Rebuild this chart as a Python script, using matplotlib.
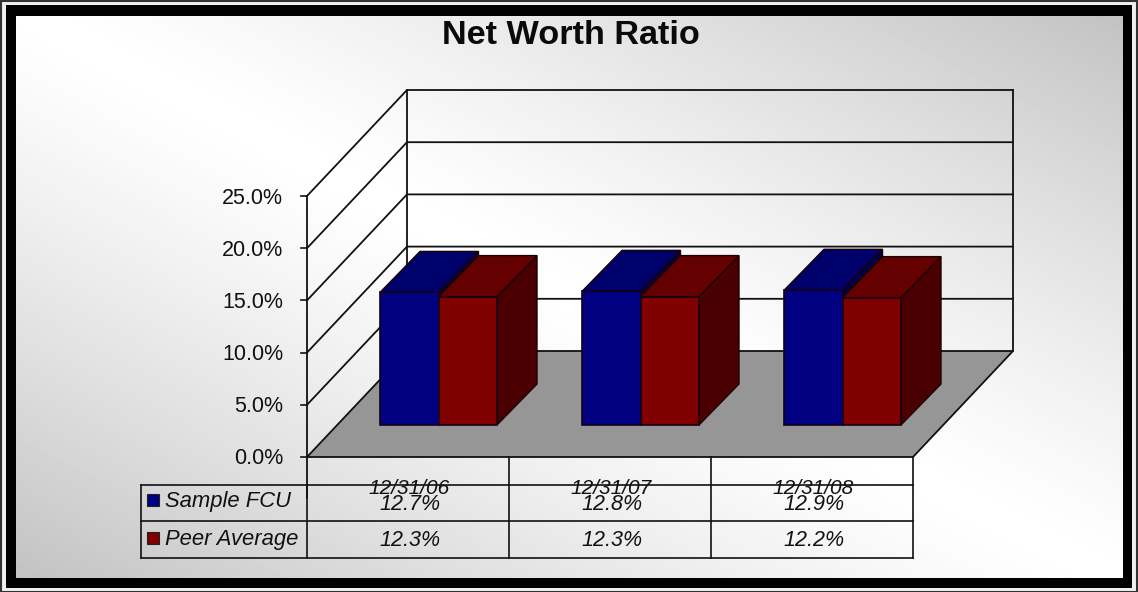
import numpy as np
import matplotlib
matplotlib.use("Agg")
import matplotlib.pyplot as plt
from matplotlib.patches import Polygon, Rectangle

plt.rcParams['font.family'] = ['Liberation Sans', 'DejaVu Sans']

title = "Net Worth Ratio"
categories = ["12/31/06", "12/31/07", "12/31/08"]
series_names = ["Sample FCU", "Peer Average"]
sample_fcu = [12.7, 12.8, 12.9]
peer_average = [12.3, 12.3, 12.2]
y_ticks = [0, 5, 10, 15, 20, 25]

W, H = 1138, 592
fig = plt.figure(figsize=(W / 100, H / 100), dpi=100)

# background: light along the top-left/bottom-right diagonal, grey at the other corners
bg = fig.add_axes([0, 0, 1, 1])
bg.set_axis_off()
yy, xx = np.mgrid[0:1:296j, 0:1:569j]
vals = 1.0 - 0.25 * np.abs(xx - yy) ** 1.25
bg.imshow(vals, cmap="gray", vmin=0, vmax=1, extent=[0, W, H, 0], aspect="auto", interpolation="bilinear")
bg.set_xlim(0, W)
bg.set_ylim(H, 0)
# frame
bg.add_patch(Rectangle((0, 0), W, 5, fc="#f0f0f0", ec="none"))
bg.add_patch(Rectangle((0, H - 4), W, 4, fc="#f0f0f0", ec="none"))
bg.add_patch(Rectangle((0, 0), 6, H, fc="#f0f0f0", ec="none"))
bg.add_patch(Rectangle((W - 6, 0), 6, H, fc="#f0f0f0", ec="none"))
bg.add_patch(Rectangle((0.5, 0.5), W - 1, H - 1, fill=False, ec="#333333", lw=1.5))
bg.add_patch(Rectangle((6, 5), W - 12, 10.5, fc="black", ec="none"))
bg.add_patch(Rectangle((6, 578), W - 12, 10, fc="black", ec="none"))
bg.add_patch(Rectangle((6, 5), 10.5, 583, fc="black", ec="none"))
bg.add_patch(Rectangle((1123, 5), 9, 583, fc="black", ec="none"))

# data axes: x in category units, y in percent (front plane)
px_x, px_y = 202.0, 10.44
ax = fig.add_axes([0, 0, 1, 1])
ax.patch.set_alpha(0)
ax.set_axis_off()
x0, y0 = 307.0, 457.0
ax.set_xlim(-x0 / px_x, (W - x0) / px_x)
ax.set_ylim(-(H - y0) / px_y, y0 / px_y)

# floor/wall depth in data units
dx, dy = 100 / px_x, 106 / px_y
n = len(categories)
top = y_ticks[-1]
edge = "#111111"

ax.add_patch(Polygon([(0, 0), (n, 0), (n + dx, dy), (dx, dy)], fc="#969696", ec=edge, lw=1.3, zorder=2))
for v in y_ticks:
    if v > 0:
        ax.plot([0, dx, n + dx], [v, v + dy, v + dy], color=edge, lw=1.3, zorder=1.5)
    ax.plot([-6 / px_x, 0], [v, v], color=edge, lw=1.2, zorder=3)
    ax.text(-24 / px_x, v - 2 / px_y, f"{v:.1f}%", ha="right", va="center", fontsize=15.5, color="#111111", zorder=5)
ax.plot([dx, dx], [dy, top + dy], color=edge, lw=1.3, zorder=1.6)
ax.plot([n + dx, n + dx], [dy, top + dy], color=edge, lw=1.3, zorder=1.6)
ax.plot([0, 0], [-41 / px_y, top], color=edge, lw=1.3, zorder=3)


def bar3d(xl, w, v, front, topc, side):
    base = 32 / px_y
    bd_x, bd_y = 40 / px_x, 41 / px_y
    ax.add_patch(Polygon([(xl + w, base), (xl + w + bd_x, base + bd_y), (xl + w + bd_x, base + v + bd_y), (xl + w, base + v)],
                         fc=side, ec="#1c0000", lw=1, zorder=4))
    ax.add_patch(Polygon([(xl, base + v), (xl + w, base + v), (xl + w + bd_x, base + v + bd_y), (xl + bd_x, base + v + bd_y)],
                         fc=topc, ec="#1c0000", lw=1, zorder=4))
    ax.add_patch(Rectangle((xl, base), w, v, fc=front, ec="#150015", lw=1.2, zorder=4.2))


bw = 58.5 / px_x
start = 73 / px_x
for i in range(n):
    bar3d(i + start, bw, sample_fcu[i], "#000080", "#00006a", "#00004a")
    bar3d(i + start + bw, bw, peer_average[i], "#800000", "#650000", "#4a0000")

# data table
left = -(x0 - 141) / px_x
r1, r2, r3 = -28 / px_y, -64 / px_y, -101 / px_y
for r in (r1, r2, r3):
    ax.plot([left, n], [r, r], color=edge, lw=1.2, zorder=3)
ax.plot([left, left], [r1, r3], color=edge, lw=1.2, zorder=3)
ax.plot([0, 0], [r1, r3], color=edge, lw=1.2, zorder=3)
for i in range(1, n + 1):
    ax.plot([i, i], [0, r3], color=edge, lw=1.2, zorder=3)

for i, c in enumerate(categories):
    cx = i + 0.5 + 1.5 / px_x
    ax.text(cx, -32 / px_y, c, ha="center", va="center", fontsize=15, style="italic", color="#111111", zorder=5)
    ax.text(cx, -48 / px_y, f"{sample_fcu[i]:.1f}%", ha="center", va="center", fontsize=15.5, style="italic", color="#111111", zorder=5)
    ax.text(cx, -84 / px_y, f"{peer_average[i]:.1f}%", ha="center", va="center", fontsize=15.5, style="italic", color="#111111", zorder=5)

colors = ["#000080", "#800000"]
for name, col, yc in zip(series_names, colors, [-43 / px_y, -81 / px_y]):
    ax.add_patch(Rectangle((left + 6 / px_x, yc - 6 / px_y), 12 / px_x, 12 / px_y, fc=col, ec="#222222", lw=0.8, zorder=5))
    ax.text(left + 24 / px_x, yc - 2 / px_y, name, ha="left", va="center", fontsize=15.8, style="italic", color="#111111", zorder=5)

fig.text(571 / W, 1 - 36 / H, title, ha="center", va="center", fontsize=24.7, fontweight="bold", color="#0a0a0a")

fig.savefig("out.png", dpi=100)
